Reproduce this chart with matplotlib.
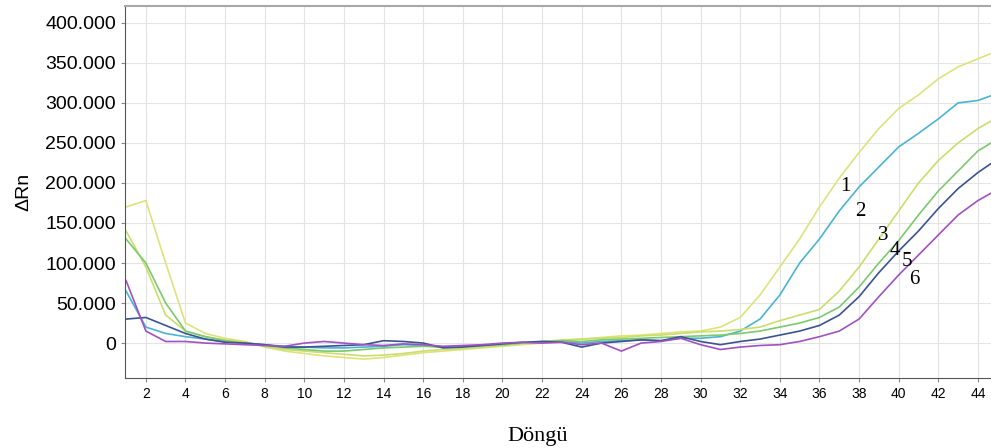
import matplotlib
matplotlib.use("Agg")
import matplotlib.pyplot as plt
import numpy as np
from matplotlib.ticker import FuncFormatter, MultipleLocator

# cycle numbers
cycles = list(range(1, 46))

# delta Rn in thousands
s1 = [170, 178, 100, 25, 12, 6, 2, -5, -10, -13, -16, -18, -20, -18, -15, -12, -10, -8, -6, -4,
      -2, 0, 3, 5, 7, 9, 10, 12, 14, 15, 20, 32, 60, 95, 130, 170, 206, 238, 268, 293,
      310, 330, 345, 355, 365]
s2 = [65, 20, 12, 8, 5, 2, 0, -2, -4, -5, -6, -6, -5, -4, -2, -3, -5, -4, -3, -2,
      0, 1, 2, 0, 2, 3, 4, 3, 6, 6, 8, 15, 30, 60, 100, 130, 165, 195, 220, 245,
      262, 280, 300, 303, 312]
s3 = [140, 95, 35, 15, 8, 4, 1, -4, -8, -10, -12, -14, -16, -15, -13, -10, -8, -7, -5, -3,
      0, 2, 4, 5, 6, 7, 9, 10, 12, 14, 15, 17, 20, 28, 35, 42, 65, 95, 130, 165,
      200, 228, 250, 268, 282]
s4 = [130, 100, 50, 15, 8, 3, 0, -3, -6, -8, -10, -10, -8, -6, -5, -4, -5, -4, -3, -2,
      0, 2, 3, 2, 4, 5, 6, 7, 8, 9, 10, 12, 15, 20, 25, 32, 45, 70, 100, 128,
      160, 190, 215, 240, 255]
s5 = [30, 32, 22, 12, 5, 1, 0, -2, -5, -5, -4, -3, -2, 3, 2, 0, -6, -5, -3, -1,
      1, 2, 1, -5, 0, 2, 4, 3, 8, 2, -2, 2, 5, 10, 15, 22, 35, 58, 88, 115,
      140, 168, 193, 213, 230]
s6 = [78, 15, 2, 2, 0, -1, -2, -3, -4, 0, 2, 0, -2, -3, -1, -2, -4, -3, -2, 0,
      1, 0, 1, -2, 0, -10, 0, 2, 6, -2, -8, -5, -3, -2, 2, 8, 15, 30, 58, 85,
      110, 135, 160, 178, 192]

series = [s1, s2, s3, s4, s5, s6]
colors = ["#dfe27c", "#4ab4d2", "#c9de6c", "#7cc96e", "#3c5391", "#a052c2"]

# curve numbers and where they sit (cycle, delta Rn)
label_text = ["1", "2", "3", "4", "5", "6"]
label_x = [37.3, 38.05, 39.2, 39.8, 40.4, 40.8]
label_y = [195000, 164000, 134000, 116000, 102000, 79000]

fig = plt.figure(figsize=(9.91, 4.48), dpi=100)
ax = fig.add_axes([0.126, 0.156, 0.874, 0.831])

for vals, col in zip(series, colors):
    ax.plot(cycles, np.array(vals) * 1000, color=col, lw=1.2)

for t, x, y in zip(label_text, label_x, label_y):
    ax.text(x, y, t, family="Liberation Serif", fontsize=15, ha="center", va="center")

ax.set_xlim(0.94, 44.66)
ax.set_ylim(-43750, 421250)
ax.xaxis.set_major_locator(MultipleLocator(2))
ax.yaxis.set_major_locator(MultipleLocator(50000))
ax.yaxis.set_major_formatter(FuncFormatter(lambda v, p: f"{int(v):,}".replace(",", ".")))

ax.grid(True, color="#e4e4e4", lw=0.8)
ax.set_axisbelow(True)

for lab in ax.get_yticklabels():
    lab.set_family("Liberation Sans")
    lab.set_fontsize(14)
for lab in ax.get_xticklabels():
    lab.set_family("Liberation Sans")
    lab.set_fontsize(10)
ax.tick_params(axis="both", length=3, color="#888888")

ax.spines["right"].set_visible(False)
ax.spines["top"].set_color("#a8a8a8")
ax.spines["top"].set_linewidth(1.5)
ax.spines["left"].set_color("#555555")
ax.spines["bottom"].set_color("#555555")

ax.set_xlabel("Döngü", family="Liberation Serif", fontsize=16)
ax.xaxis.set_label_coords(0.476, -0.13)
ax.set_ylabel("ΔRn", family="Liberation Sans", fontsize=14)
ax.yaxis.set_label_coords(-0.107, 0.5)

fig.savefig("out.png", dpi=100)
